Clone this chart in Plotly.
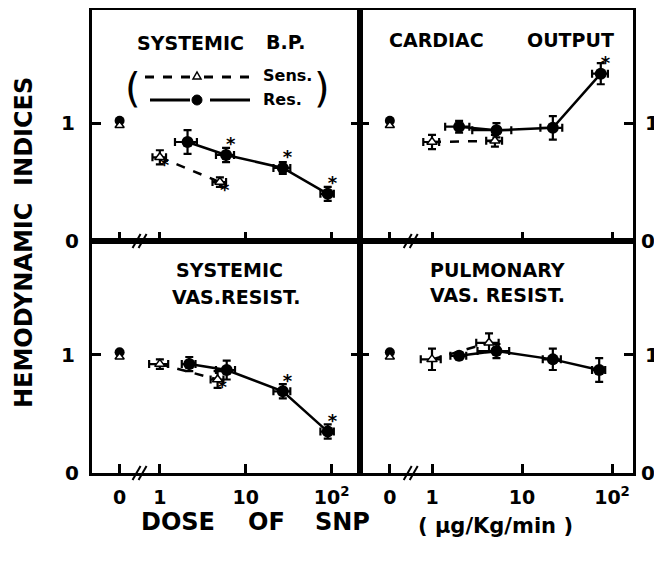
import numpy as np
import plotly.graph_objects as go

# page has an 8px body margin, so the figure starts at (8, 8)
OX, OY = 8, 8
W, H = 654, 555
FONT = "DejaVu Sans"

# ---------------- data ----------------
ZERO_POS = 0.34          # where the zero-dose control is drawn on the log dose axis
BREAK_POS = 0.58         # where the axis break "//" sits
x_tickvals = [ZERO_POS, 1, 10, 100]
x_ticktext = ["0", "1", "10", "10<sup>2</sup>"]

control_sens = 0.98
control_res = 1.02

# SYSTEMIC B.P.
bp_sens_dose = [1.0, 5.0]
bp_sens_dose_err = [0.18, 0.9]
bp_sens_val = [0.71, 0.50]
bp_sens_err = [0.06, 0.04]
bp_sens_sig = [1, 1]
bp_res_dose = [2.1, 5.9, 27, 90]
bp_res_dose_err = [0.6, 1.4, 6, 16]
bp_res_val = [0.84, 0.73, 0.62, 0.40]
bp_res_err = [0.10, 0.06, 0.05, 0.06]
bp_res_sig = [0, 1, 1, 1]

# CARDIAC OUTPUT
co_sens_dose = [1.0, 5.0]
co_sens_dose_err = [0.2, 1.0]
co_sens_val = [0.84, 0.85]
co_sens_err = [0.06, 0.05]
co_sens_sig = [0, 0]
co_res_dose = [2.0, 5.2, 22, 75]
co_res_dose_err = [0.6, 2.4, 6, 15]
co_res_val = [0.97, 0.94, 0.96, 1.42]
co_res_err = [0.05, 0.06, 0.10, 0.09]
co_res_sig = [0, 0, 0, 1]

# SYSTEMIC VAS. RESIST.
svr_sens_dose = [1.0, 4.7]
svr_sens_dose_err = [0.25, 0.8]
svr_sens_val = [0.92, 0.79]
svr_sens_err = [0.04, 0.07]
svr_sens_sig = [0, 1]
svr_res_dose = [2.2, 6.0, 27, 90]
svr_res_dose_err = [0.4, 1.5, 6, 16]
svr_res_val = [0.92, 0.87, 0.69, 0.35]
svr_res_err = [0.06, 0.08, 0.06, 0.06]
svr_res_sig = [0, 0, 1, 1]

# PULMONARY VAS. RESIST.
pvr_sens_dose = [1.0, 4.3]
pvr_sens_dose_err = [0.25, 1.2]
pvr_sens_val = [0.96, 1.10]
pvr_sens_err = [0.09, 0.08]
pvr_sens_sig = [0, 0]
pvr_res_dose = [2.0, 5.2, 22, 72]
pvr_res_dose_err = [0.4, 2.0, 5, 12]
pvr_res_val = [0.99, 1.03, 0.96, 0.87]
pvr_res_err = [0.03, 0.06, 0.09, 0.10]
pvr_res_sig = [0, 0, 0, 0]

panels = [
    dict(sens=(bp_sens_dose, bp_sens_dose_err, bp_sens_val, bp_sens_err, bp_sens_sig),
         res=(bp_res_dose, bp_res_dose_err, bp_res_val, bp_res_err, bp_res_sig)),
    dict(sens=(co_sens_dose, co_sens_dose_err, co_sens_val, co_sens_err, co_sens_sig),
         res=(co_res_dose, co_res_dose_err, co_res_val, co_res_err, co_res_sig)),
    dict(sens=(svr_sens_dose, svr_sens_dose_err, svr_sens_val, svr_sens_err, svr_sens_sig),
         res=(svr_res_dose, svr_res_dose_err, svr_res_val, svr_res_err, svr_res_sig)),
    dict(sens=(pvr_sens_dose, pvr_sens_dose_err, pvr_sens_val, pvr_sens_err, pvr_sens_sig),
         res=(pvr_res_dose, pvr_res_dose_err, pvr_res_val, pvr_res_err, pvr_res_sig)),
]

# ---------------- layout geometry (window pixels) ----------------
def px(x):
    return (x - OX) / W

def py(y):
    return 1 - (y - OY) / H

X_L, X_M, X_R = 92, 360, 633
Y_T, Y_M, Y_B = 10, 241, 473
Y_RANGE = [0, 1.96]
X_RANGES = [[-0.79, 2.33], [-0.80, 2.233]]

x_domains = [[px(X_L), px(X_M)], [px(X_M), px(X_R)]]
y_domains = [[py(Y_M), py(Y_T)], [py(Y_B), py(Y_M)]]

fig = go.Figure()

BLACK = "black"
for i, p in enumerate(panels):
    ax = "" if i == 0 else str(i + 1)
    xa, ya = "x" + ax, "y" + ax
    # control (zero dose)
    fig.add_trace(go.Scatter(x=[ZERO_POS], y=[control_res], xaxis=xa, yaxis=ya, mode="markers",
                             marker=dict(symbol="circle", size=10, color=BLACK),
                             showlegend=False, cliponaxis=False))
    fig.add_trace(go.Scatter(x=[ZERO_POS], y=[control_sens], xaxis=xa, yaxis=ya, mode="markers",
                             marker=dict(symbol="triangle-up", size=8, color="white",
                                         line=dict(color=BLACK, width=1.5)),
                             showlegend=False, cliponaxis=False))
    for key in ["res", "sens"]:
        dose, dose_err, val, err, sig = p[key]
        if key == "res":
            marker = dict(symbol="circle", size=12, color=BLACK)
            dash = "solid"
            tpos = "top right"
        else:
            marker = dict(symbol="triangle-up", size=9, color="white",
                          line=dict(color=BLACK, width=1.5))
            dash = "dash"
            tpos = "bottom right"
        fig.add_trace(go.Scatter(
            x=dose, y=val, xaxis=xa, yaxis=ya, mode="lines+markers",
            line=dict(color=BLACK, width=2.5, dash=dash),
            marker=marker,
            error_y=dict(type="data", array=err, color=BLACK, thickness=2.2, width=4),
            error_x=dict(type="data", array=dose_err, color=BLACK, thickness=2.2, width=4),
            showlegend=False, cliponaxis=False))
        sx = [d for d, s in zip(dose, sig) if s]
        sy = [v for v, s in zip(val, sig) if s]
        if sx:
            fig.add_trace(go.Scatter(x=sx, y=sy, xaxis=xa, yaxis=ya, mode="text",
                                     text=["*"] * len(sx), textposition=tpos,
                                     textfont=dict(family=FONT, size=18, color=BLACK, weight="bold"),
                                     showlegend=False, cliponaxis=False))

axis_font = dict(family=FONT, size=20, color=BLACK, weight="bold")
layout = dict(width=W, height=H, margin=dict(l=0, r=0, t=0, b=0),
              paper_bgcolor="white", plot_bgcolor="white", showlegend=False)

for i in range(4):
    col, row = i % 2, i // 2
    ax = "" if i == 0 else str(i + 1)
    layout["xaxis" + ax] = dict(
        type="log", range=X_RANGES[col], domain=x_domains[col], anchor="y" + ax,
        tickvals=x_tickvals, ticktext=x_ticktext, showticklabels=(row == 1),
        ticks="inside", ticklen=9, tickwidth=3, tickcolor=BLACK,
        showline=True, linewidth=3, linecolor=BLACK, mirror=True,
        showgrid=False, zeroline=False,
        tickfont=dict(family=FONT, size=19, color=BLACK, weight="bold"),
        ticklabelstandoff=5,
    )
    layout["yaxis" + ax] = dict(
        range=Y_RANGE, domain=y_domains[row], anchor="x" + ax,
        side="left" if col == 0 else "right",
        tickvals=[1], ticktext=["1"], ticks="inside", ticklen=9, tickwidth=3,
        tickcolor=BLACK, showline=True, linewidth=3, linecolor=BLACK, mirror="ticks",
        showgrid=False, zeroline=False, tickfont=axis_font,
        ticklabelstandoff=10 if col == 0 else 5,
    )

fig.update_layout(**layout)

annotations = []
shapes = []

# "0" labels on the y axes
for row in range(2):
    yax = "y" if row == 0 else "y3"
    annotations.append(dict(x=px(X_L - 11), y=0, xref="paper", yref=yax, text="0",
                            showarrow=False, xanchor="right", yanchor="middle", font=axis_font))
    annotations.append(dict(x=px(X_R + 6), y=0, xref="paper", yref=yax, text="0",
                            showarrow=False, xanchor="left", yanchor="middle", font=axis_font))

# axis breaks "//"
for i in range(4):
    col, row = i % 2, i // 2
    lo, hi = X_RANGES[col]
    x0p = X_L if col == 0 else X_M
    x1p = X_M if col == 0 else X_R
    bx = x0p + (np.log10(BREAK_POS) - lo) / (hi - lo) * (x1p - x0p)
    by = Y_M if row == 0 else Y_B
    for off in (-3, 3):
        shapes.append(dict(type="line", xref="paper", yref="paper",
                           x0=px(bx + off - 4), y0=py(by + 7), x1=px(bx + off + 4), y1=py(by - 7),
                           line=dict(color=BLACK, width=2)))

# panel titles
title_font = dict(family=FONT, size=19, color=BLACK, weight="bold")
def txt(x, y, s, font=title_font, **kw):
    d = dict(x=px(x), y=py(y), xref="paper", yref="paper", text=s, showarrow=False,
             xanchor="center", yanchor="middle", font=font)
    d.update(kw)
    annotations.append(d)

txt(190, 43, "SYSTEMIC")
txt(285, 42, "B.P.")
txt(437, 40, "CARDIAC")
txt(570, 40, "OUTPUT")
txt(229, 270, "SYSTEMIC")
txt(236, 297, "VAS.RESIST.")
txt(497, 270, "PULMONARY")
txt(497, 295, "VAS. RESIST.")

# legend inside SYSTEMIC B.P.
leg_font = dict(family=FONT, size=16, color=BLACK, weight="bold")
txt(133, 88, "(", font=dict(family=FONT, size=40, color=BLACK))
txt(322, 88, ")", font=dict(family=FONT, size=40, color=BLACK))
txt(261, 76, "Sens.", font=leg_font, xanchor="left")
txt(261, 100, "Res.", font=leg_font, xanchor="left")
for (a, b) in [(145, 190), (204, 252)]:
    shapes.append(dict(type="line", xref="paper", yref="paper", x0=px(a), x1=px(b),
                       y0=py(77), y1=py(77), line=dict(color=BLACK, width=3, dash="dash")))
for (a, b) in [(150, 190), (210, 250)]:
    shapes.append(dict(type="line", xref="paper", yref="paper", x0=px(a), x1=px(b),
                       y0=py(100), y1=py(100), line=dict(color=BLACK, width=3)))
# legend symbols
shapes.append(dict(type="path", xref="paper", yref="paper",
                   path=f"M {px(193)} {py(79)} L {px(201)} {py(79)} L {px(197)} {py(72)} Z",
                   line=dict(color=BLACK, width=1.5), fillcolor="white"))
shapes.append(dict(type="circle", xref="paper", yref="paper",
                   x0=px(192), x1=px(202), y0=py(105), y1=py(95),
                   line=dict(color=BLACK, width=1), fillcolor=BLACK))

# axis titles
big = dict(family=FONT, size=24, color=BLACK, weight="bold")
txt(24, 243, "HEMODYNAMIC  INDICES", font=big, textangle=-90)
txt(178, 522, "DOSE", font=big)
txt(266, 522, "OF", font=big)
txt(342, 522, "SNP", font=big)
txt(495, 526, "( µg/Kg/min )", font=dict(family=FONT, size=21, color=BLACK, weight="bold"))

fig.update_layout(annotations=annotations, shapes=shapes)
fig.write_html("out.html")
